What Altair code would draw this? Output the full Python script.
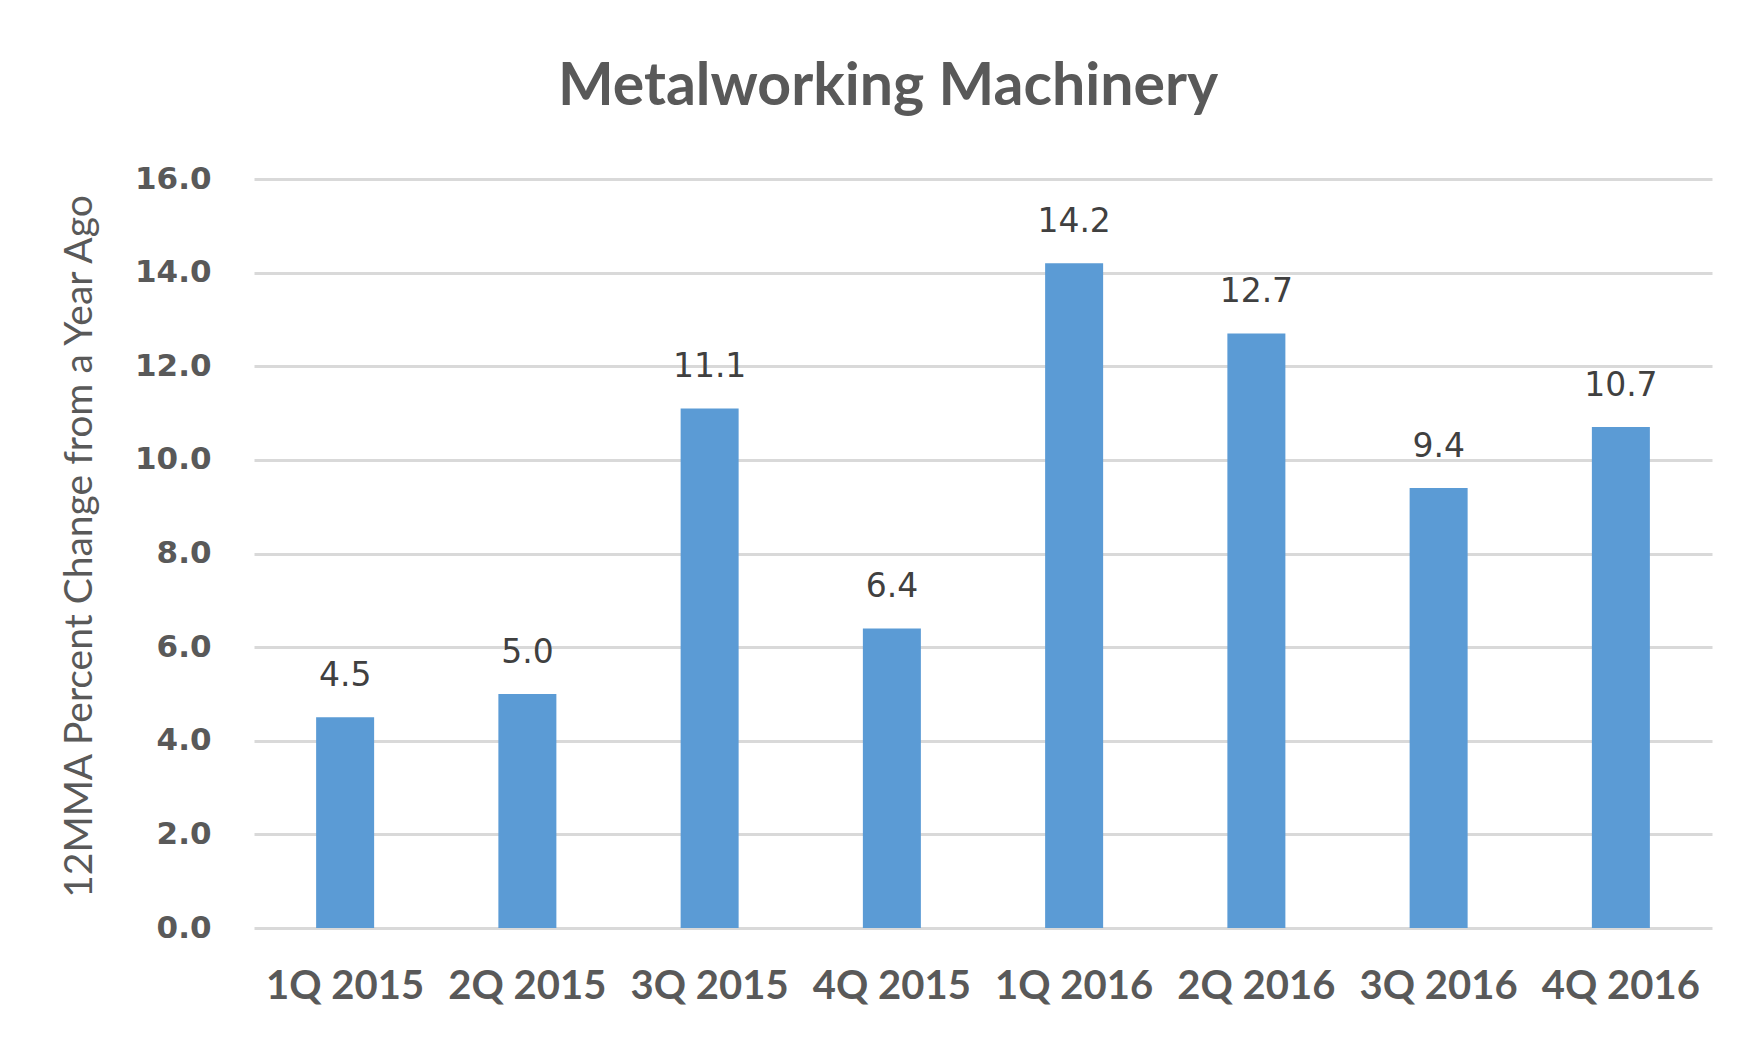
import altair as alt
import pandas as pd

quarters = ["1Q 2015", "2Q 2015", "3Q 2015", "4Q 2015", "1Q 2016", "2Q 2016", "3Q 2016", "4Q 2016"]
values = [4.5, 5.0, 11.1, 6.4, 14.2, 12.7, 9.4, 10.7]
y_ticks = [0, 2, 4, 6, 8, 10, 12, 14, 16]

df = pd.DataFrame({"quarter": quarters, "value": values})

x_enc = alt.X("quarter:N", sort=quarters, title=None,
              scale=alt.Scale(paddingInner=0, paddingOuter=0),
              axis=alt.Axis(labelAngle=0, labelFont="Lato", labelFontWeight="bold",
                            labelFontSize=40, labelColor="#595959", labelPadding=38,
                            ticks=False, domain=False, grid=False))
y_enc = alt.Y("value:Q", title="12MMA Percent Change from a Year Ago",
              scale=alt.Scale(domain=[0, 16], nice=False),
              axis=alt.Axis(values=y_ticks, format=".1f", labelFont="DejaVu Sans",
                            labelFontWeight="bold", labelFontSize=31, labelColor="#595959",
                            labelPadding=43, ticks=False, domain=False,
                            grid=True, gridColor="#d9d9d9", gridWidth=3,
                            titleFont="Lato", titleFontSize=39, titleFontWeight="normal",
                            titleColor="#595959", titleX=-175, titleY=367,
                            titleAlign="center", titleBaseline="middle", titleAngle=-90))

base = alt.Chart(df)
bars = base.mark_bar(color="#5b9bd5", size=58).encode(x=x_enc, y=y_enc)
labels = base.mark_text(font="DejaVu Sans", fontSize=33, color="#404040",
                        baseline="alphabetic", dy=-31).encode(
    x=x_enc, y=y_enc, text=alt.Text("value:Q", format=".1f"))

chart = alt.layer(bars, labels).properties(
    width=1458, height=749,
    background="white",
    padding={"left": 246, "top": 171, "right": 40, "bottom": 100},
    autosize=alt.AutoSizeParams(type="none"),
    title=alt.TitleParams("Metalworking Machinery", font="Lato", fontSize=59,
                          fontWeight="bold", color="#595959", anchor="middle",
                          frame="group", dx=-95, offset=46),
).configure_view(strokeWidth=0, stroke="transparent")

chart.save("out.html", embed_options={"renderer": "svg", "actions": False})
